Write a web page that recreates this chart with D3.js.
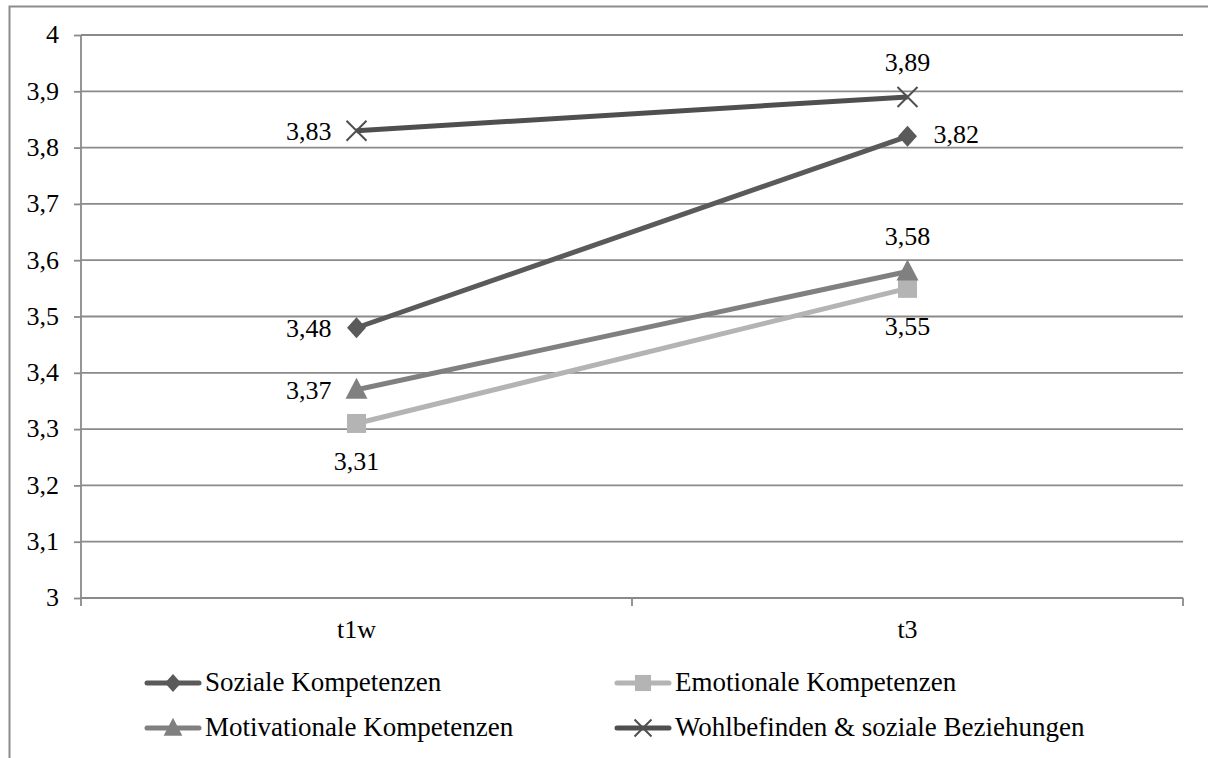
<!DOCTYPE html>
<html><head><meta charset="utf-8">
<script src="https://cdn.jsdelivr.net/npm/d3@7"></script>
<style>body{margin:0;background:#fff}svg{display:block}</style>
</head><body><svg id="c" width="1208" height="758"></svg>
<script>
const categories = ["t1w", "t3"];
const seriesNames = ["Soziale Kompetenzen", "Emotionale Kompetenzen", "Motivationale Kompetenzen", "Wohlbefinden & soziale Beziehungen"];
const soziale = [3.48, 3.82];
const emotionale = [3.31, 3.55];
const motivationale = [3.37, 3.58];
const wohlbefinden = [3.83, 3.89];
const yTicks = [3, 3.1, 3.2, 3.3, 3.4, 3.5, 3.6, 3.7, 3.8, 3.9, 4];

const colors = ["#5a5a5a", "#b4b4b4", "#808080", "#4f4f4f"];
const symbols = ["diamond", "square", "triangle", "x"];
const labelPos = [["left", "right"], ["below", "below"], ["left", "above"], ["left", "above"]];
const seriesVals = [soziale, emotionale, motivationale, wohlbefinden];

const FONT = "Liberation Serif";
const svg = d3.select("#c");
const fmt = v => String(v).replace(".", ",");

// outer border
svg.append("path").attr("d", "M9.5,758 V6.5 H1208").attr("fill", "none").attr("stroke", "#8c8c8c").attr("stroke-width", 2);

const x = d3.scaleBand().domain(categories).range([81, 1183]);
const y = d3.scaleLinear().domain([3, 4]).range([598, 35]);

// grid
svg.append("g").selectAll("line").data(yTicks.slice(1)).join("line")
  .attr("x1", 81).attr("x2", 1183).attr("y1", d => y(d)).attr("y2", d => y(d))
  .attr("stroke", "#8a8a8a").attr("stroke-width", 1.8);

const yAxis = svg.append("g").attr("transform", "translate(81,0)")
  .call(d3.axisLeft(y).tickValues(yTicks).tickSize(7).tickPadding(15).tickFormat(d => fmt(d)));
yAxis.select(".domain").attr("stroke", "#8a8a8a").attr("stroke-width", 1.8).attr("d", "M0," + y(4) + "V" + y(3));
yAxis.selectAll(".tick line").attr("stroke", "#8a8a8a").attr("stroke-width", 1.8);
yAxis.selectAll("text").style("font-family", FONT).attr("font-size", 26).attr("fill", "#000").attr("dy", "0.3em");

const xAxis = svg.append("g").attr("transform", "translate(0,598)")
  .call(d3.axisBottom(x).tickSize(0));
xAxis.select(".domain").attr("stroke", "#8a8a8a").attr("stroke-width", 1.8).attr("d", "M81,0H1183");
xAxis.selectAll("text").style("font-family", FONT).attr("font-size", 26).attr("fill", "#000").attr("y", 40).attr("dy", 0);
// category boundary ticks
const bounds = [x.range()[0], ...categories.map(c => x(c) + x.bandwidth())];
svg.append("g").selectAll("line").data(bounds).join("line")
  .attr("x1", d => d).attr("x2", d => d).attr("y1", 598).attr("y2", 606)
  .attr("stroke", "#8a8a8a").attr("stroke-width", 1.8);

const cx = c => x(c) + x.bandwidth() / 2;

function drawMarker(g, sym, px, py, color, scale) {
  const s = scale || 1;
  if (sym === "diamond") {
    const w = 9.5 * s, h = 10.5 * s;
    g.append("path").attr("d", `M${px},${py - h}L${px + w},${py}L${px},${py + h}L${px - w},${py}Z`).attr("fill", color);
  } else if (sym === "square") {
    const h = 9.5 * s;
    g.append("rect").attr("x", px - h).attr("y", py - h).attr("width", 2 * h).attr("height", 2 * h).attr("fill", color);
  } else if (sym === "triangle") {
    const w = 11 * s;
    g.append("path").attr("d", `M${px},${py - 12 * s}L${px + w},${py + 9 * s}L${px - w},${py + 9 * s}Z`).attr("fill", color);
  } else {
    const h = 10 * s;
    g.append("path").attr("d", `M${px - h},${py - h}L${px + h},${py + h}M${px - h},${py + h}L${px + h},${py - h}`)
      .attr("stroke", color).attr("stroke-width", 2);
  }
}

const line = d3.line().x((d, i) => cx(categories[i])).y(d => y(d));
seriesVals.forEach((vals, si) => {
  const g = svg.append("g");
  g.append("path").attr("d", line(vals)).attr("fill", "none").attr("stroke", colors[si]).attr("stroke-width", 5);
  vals.forEach((v, i) => {
    const px = cx(categories[i]), py = y(v);
    drawMarker(g, symbols[si], px, py, colors[si]);
    const pos = labelPos[si][i];
    const t = g.append("text").style("font-family", FONT).attr("font-size", 26).attr("fill", "#000").text(fmt(v));
    if (pos === "left") t.attr("x", px - 25).attr("y", py + 9.5).attr("text-anchor", "end");
    else if (pos === "right") t.attr("x", px + 26).attr("y", py + 7).attr("text-anchor", "start");
    else if (pos === "above") t.attr("x", px).attr("y", py - 26).attr("text-anchor", "middle");
    else t.attr("x", px).attr("y", py + 47).attr("text-anchor", "middle");
  });
});

// legend
const legendOrder = [0, 1, 2, 3];
const legX = [146, 616], legY = [683, 728];
legendOrder.forEach((si, k) => {
  const lx = legX[k % 2], ly = legY[Math.floor(k / 2)];
  const g = svg.append("g");
  g.append("line").attr("x1", lx + 1).attr("x2", lx + 53).attr("y1", ly).attr("y2", ly)
    .attr("stroke", colors[si]).attr("stroke-width", 5).attr("stroke-linecap", "round");
  drawMarker(g, symbols[si], lx + 27, ly, colors[si], 0.85);
  g.append("text").style("font-family", FONT).attr("x", lx + 59).attr("y", ly + 8).attr("font-size", 27).attr("fill", "#000").text(seriesNames[si]);
});
</script></body></html>
